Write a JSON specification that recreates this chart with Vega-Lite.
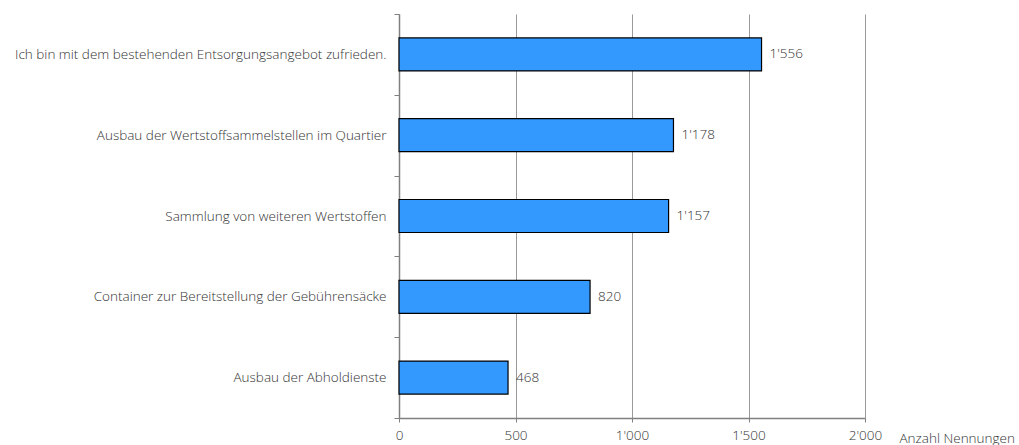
{
  "$schema": "https://vega.github.io/schema/vega-lite/v6.json",
  "autosize": {"type": "none"},
  "padding": {"left": 399, "top": 14, "right": 154, "bottom": 27},
  "width": 466,
  "height": 404,
  "config": {
    "locale": {"number": {"decimal": ".", "thousands": "'", "grouping": [3], "currency": ["", ""]}},
    "view": {"stroke": null},
    "font": "Open Sans"
  },
  "data": {
    "values": [
      {"kategorie": "Ich bin mit dem bestehenden Entsorgungsangebot zufrieden.", "anzahl": 1556},
      {"kategorie": "Ausbau der Wertstoffsammelstellen im Quartier", "anzahl": 1178},
      {"kategorie": "Sammlung von weiteren Wertstoffen", "anzahl": 1157},
      {"kategorie": "Container zur Bereitstellung der Gebührensäcke", "anzahl": 820},
      {"kategorie": "Ausbau der Abholdienste", "anzahl": 468}
    ]
  },
  "encoding": {
    "y": {
      "field": "kategorie",
      "type": "nominal",
      "sort": null,
      "scale": {"paddingInner": 0, "paddingOuter": 0},
      "axis": {
        "title": null,
        "tickBand": "extent",
        "grid": false,
        "domainColor": "#808080",
        "domainWidth": 1.5,
        "tickColor": "#808080",
        "tickSize": 5,
        "labelPadding": 8,
        "labelFontSize": 13.5,
        "labelFontWeight": 300,
        "labelColor": "#333333",
        "labelFont": "Open Sans",
        "labelLimit": 420
      }
    },
    "x": {
      "field": "anzahl",
      "type": "quantitative",
      "scale": {"domain": [0, 2000], "nice": false},
      "axis": {
        "values": [0, 500, 1000, 1500, 2000],
        "format": ",d",
        "title": "Anzahl Nennungen",
        "titleX": 500,
        "titleY": 20,
        "titleAlign": "left",
        "titleBaseline": "middle",
        "titleFontWeight": 300,
        "titleFontSize": 13.5,
        "titleColor": "#333333",
        "titleFont": "Open Sans",
        "grid": true,
        "gridColor": "#999999",
        "gridWidth": 1,
        "domainColor": "#808080",
        "domainWidth": 1.5,
        "tickColor": "#808080",
        "tickSize": 4,
        "labelPadding": 6,
        "labelFontSize": 13.5,
        "labelFontWeight": 300,
        "labelColor": "#333333",
        "labelFont": "Open Sans",
        "labelFlush": false
      }
    }
  },
  "layer": [
    {
      "mark": {"type": "bar", "size": 33, "fill": "#3399FF", "stroke": "#000000", "strokeWidth": 1.2}
    },
    {
      "mark": {"type": "text", "align": "left", "baseline": "middle", "dx": 8, "fontSize": 13.5, "fontWeight": 300, "color": "#333333", "font": "Open Sans"},
      "encoding": {"text": {"field": "anzahl", "type": "quantitative", "format": ",d"}}
    }
  ]
}
